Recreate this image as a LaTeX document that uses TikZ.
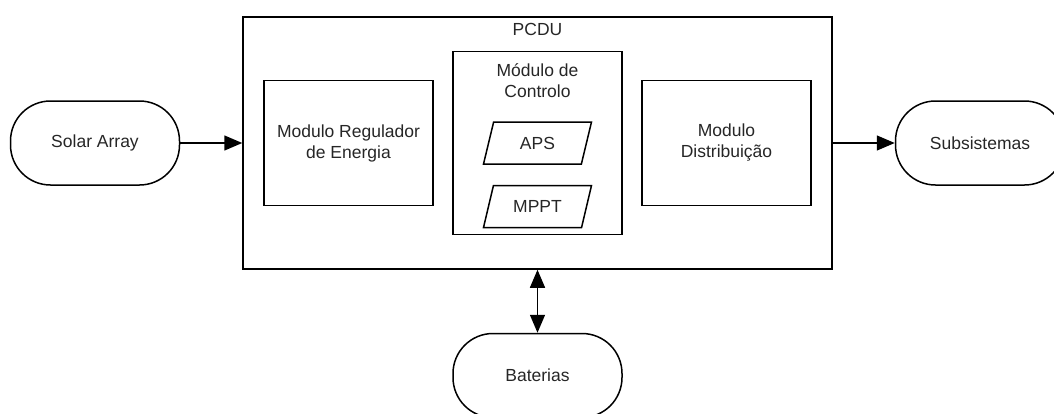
\documentclass[tikz,border=0pt]{standalone}
\usepackage{fontspec}
\setmainfont{Liberation Sans}
\usetikzlibrary{positioning, arrows.meta, shapes.geometric}

\begin{document}
\begin{tikzpicture}[x=1pt,y=-1pt,->,>={Triangle[length=18pt,width=15pt]},line width=1.5pt,
        font=\fontsize{17.5}{21}\selectfont,text=black!85,
        end node/.style={draw,rounded corners=40pt,minimum width=169pt,minimum height=84pt},
        block node/.style={draw,minimum width=169pt,minimum height=125pt,align=center},
        par node/.style={draw,trapezium,trapezium left angle=62,trapezium right angle=118,
            trapezium stretches body,minimum width=108pt,minimum height=42pt}]
        \useasboundingbox (0,0) rectangle (1054,413);
        \node[draw,minimum width=589pt,minimum height=252pt] (pcdu) at (537.5,143) {};
        \node[below=3pt of pcdu.north] (pcdutext) {PCDU};
        \node[block node,right=21pt of pcdu.west] (reg) {Modulo Regulador\\de Energia};
        \node[block node,minimum height=183pt] (ctrl) at (pcdu) {};
        \node[below=9pt of ctrl.north,align=center] (ctrltext) {Módulo de\\Controlo};
        \node[par node] (aps) at (ctrl) {APS};
        \node[par node,below=20pt of aps] (mppt) {MPPT};
        \node[block node,left=21pt of pcdu.east] (dist) {Modulo\\Distribuição};
        \node[end node,left=62pt of pcdu] (solar) {Solar Array};
        \node[end node,right=62pt of pcdu] (subs) {Subsistemas};
        \node[end node,below=63pt of pcdu] (bat) {Baterias};

        \path[]
        (solar) edge (pcdu)
        (pcdu) edge (subs)
        (pcdu) edge[<->] (bat);
    \end{tikzpicture}
\end{document}
